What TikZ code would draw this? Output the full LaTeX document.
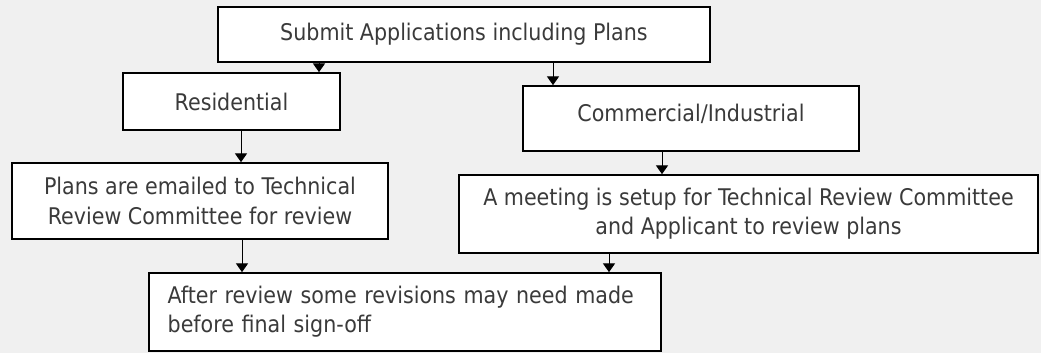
\documentclass[tikz,border=0pt]{standalone}
\usepackage{fontspec}
\setmainfont{DejaVu Sans Condensed}
\usepackage{tikz}
\usetikzlibrary{arrows.meta}

\definecolor{bg}{HTML}{F0F0F0}
\definecolor{txt}{HTML}{3A3A3A}

\begin{document}
\begin{tikzpicture}[x=0.75pt, y=-0.75pt, >={Triangle[width=9pt,length=6.5pt]},
    box/.style={draw, fill=white, line width=1.3pt, text=txt, align=center, inner sep=0pt,
        font=\fontsize{17.2}{22}\selectfont},
    arr/.style={->, line width=0.7pt}]

    \fill[bg] (0,0) rectangle (1041,353);
    \useasboundingbox (0,0) rectangle (1041,353);

    % Nodes (sizes in pt, 1px = 0.75pt)
    \node (submit) [box, minimum width=369pt, minimum height=41.25pt] at (464,34.5) {Submit Applications including Plans};
    \node (resid) [box, minimum width=162.75pt, minimum height=42.75pt] at (231.5,101.5) {Residential};
    \node (comm) [box, minimum width=252pt, minimum height=48.75pt, text depth=9pt] at (691,118.5) {Commercial/Industrial};
    \node (plans) [box, minimum width=282pt, minimum height=57pt] at (200,201) {Plans are emailed to Technical\\Review Committee for review};
    \node (meeting) [box, minimum width=434.25pt, minimum height=58.5pt] at (748.5,214) {A meeting is setup for Technical Review Committee\\and Applicant to review plans};
    \node (final) [box, minimum width=384pt, minimum height=58.5pt, align=left, text width=356pt] at (405,312) {After review some revisions may need made\\before final sign-off};

    % Arrows
    \draw[arr] (319,0 |- submit.south) -- (319,0 |- resid.north);
    \draw[arr] (553,0 |- submit.south) -- (553,0 |- comm.north);
    \draw[arr] (241,0 |- resid.south) -- (241,0 |- plans.north);
    \draw[arr] (662,0 |- comm.south) -- (662,0 |- meeting.north);
    \draw[arr] (242,0 |- plans.south) -- (242,0 |- final.north);
    \draw[arr] (609,0 |- meeting.south) -- (609,0 |- final.north);

\end{tikzpicture}
\end{document}
